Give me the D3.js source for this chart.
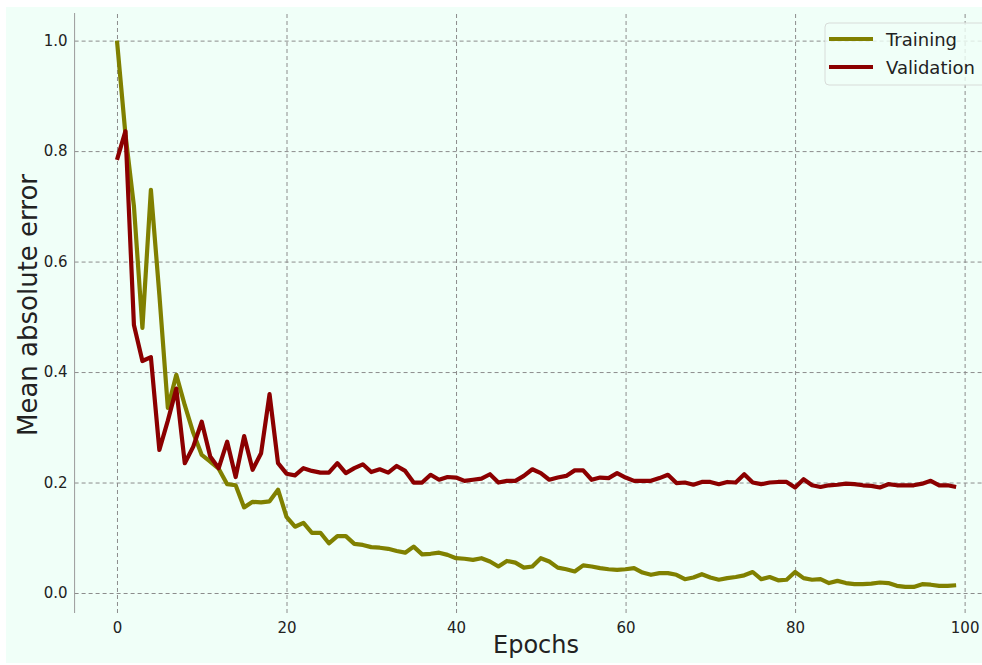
<!DOCTYPE html>
<html>
<head>
<meta charset="utf-8">
<script src="https://cdn.jsdelivr.net/npm/d3@7/dist/d3.min.js"></script>
<style>
  html, body { margin: 0; padding: 0; background: #ffffff; }
  svg { display: block; }
  text { font-family: "DejaVu Sans", sans-serif; fill: #222; }
</style>
</head>
<body>
<svg id="chart" width="982" height="665"></svg>
<script>
const epochs = d3.range(0, 100);
const training = [
  1.000, 0.830, 0.700, 0.480, 0.730, 0.540, 0.335, 0.395, 0.340, 0.290,
  0.250, 0.238, 0.225, 0.197, 0.195, 0.155, 0.165, 0.164, 0.166, 0.187,
  0.138, 0.120, 0.127, 0.109, 0.109, 0.090, 0.103, 0.103, 0.089, 0.087,
  0.083, 0.082, 0.080, 0.076, 0.073, 0.084, 0.070, 0.071, 0.073, 0.069,
  0.063, 0.062, 0.060, 0.063, 0.057, 0.048, 0.058, 0.055, 0.046, 0.048,
  0.063, 0.057, 0.046, 0.043, 0.039, 0.050, 0.048, 0.045, 0.043, 0.042,
  0.043, 0.045, 0.037, 0.033, 0.036, 0.036, 0.033, 0.025, 0.028, 0.034,
  0.028, 0.024, 0.027, 0.029, 0.032, 0.038, 0.025, 0.029, 0.023, 0.024,
  0.038, 0.027, 0.024, 0.025, 0.018, 0.022, 0.018, 0.016, 0.016, 0.017,
  0.019, 0.018, 0.013, 0.011, 0.011, 0.016, 0.015, 0.013, 0.013, 0.014
];
const validation = [
  0.784, 0.836, 0.485, 0.420, 0.427, 0.259, 0.312, 0.370, 0.235, 0.265,
  0.310, 0.247, 0.226, 0.274, 0.210, 0.284, 0.223, 0.253, 0.360, 0.235,
  0.216, 0.213, 0.226, 0.221, 0.218, 0.218, 0.235, 0.217, 0.226, 0.233,
  0.219, 0.224, 0.218, 0.230, 0.221, 0.200, 0.200, 0.214, 0.205, 0.210,
  0.209, 0.203, 0.205, 0.207, 0.215, 0.200, 0.203, 0.203, 0.212, 0.224,
  0.217, 0.205, 0.209, 0.212, 0.222, 0.222, 0.205, 0.209, 0.208, 0.217,
  0.209, 0.203, 0.203, 0.203, 0.208, 0.214, 0.199, 0.200, 0.196, 0.201,
  0.201, 0.197, 0.201, 0.200, 0.215, 0.200, 0.197, 0.200, 0.201, 0.201,
  0.191, 0.206, 0.195, 0.192, 0.195, 0.196, 0.198, 0.197, 0.195, 0.194,
  0.191, 0.197, 0.195, 0.195, 0.195, 0.198, 0.203, 0.195, 0.195, 0.192
];
const xTicks = [0, 20, 40, 60, 80, 100];
const yTicks = [0.0, 0.2, 0.4, 0.6, 0.8, 1.0];
const seriesNames = ["Training", "Validation"];
const seriesColors = ["#808000", "#8b0000"];

const svg = d3.select("#chart");
const W = 982, H = 665;

// figure background
svg.append("rect").attr("x", 6).attr("y", 7).attr("width", W - 6).attr("height", 656)
  .attr("fill", "#f0fff8");

const plot = { left: 74.6, right: 1007, top: 13, bottom: 613 };
const x = d3.scaleLinear().domain([-5, 105]).range([plot.left, plot.right]);
const y = d3.scaleLinear().domain([-0.0362, 1.05]).range([plot.bottom, plot.top]);

const gridColor = "#8c8c8c";
// horizontal grid
const yAxis = d3.axisLeft(y).tickValues(yTicks).tickFormat(d3.format(".1f"))
  .tickSize(-(plot.right - plot.left)).tickPadding(7);
const gy = svg.append("g").attr("transform", `translate(${plot.left},0)`).call(yAxis);
gy.select(".domain").remove();
gy.selectAll(".tick line").attr("stroke", gridColor).attr("stroke-dasharray", "4,3").attr("stroke-width", 1);
gy.selectAll(".tick text").attr("font-size", 15).attr("fill", "#1a1a1a")
  .style("font-family", '"DejaVu Sans", sans-serif');

// vertical grid
const xAxis = d3.axisBottom(x).tickValues(xTicks).tickFormat(d3.format("d"))
  .tickSize(-(plot.bottom - plot.top)).tickPadding(9);
const gx = svg.append("g").attr("transform", `translate(0,${plot.bottom})`).call(xAxis);
gx.select(".domain").remove();
gx.selectAll(".tick line").attr("stroke", gridColor).attr("stroke-dasharray", "4,3").attr("stroke-width", 1);
gx.selectAll(".tick text").attr("font-size", 15).attr("fill", "#1a1a1a")
  .style("font-family", '"DejaVu Sans", sans-serif');

// left spine
svg.append("line").attr("x1", plot.left).attr("x2", plot.left)
  .attr("y1", plot.top).attr("y2", plot.bottom)
  .attr("stroke", "#9a9a9a").attr("stroke-width", 1);

// lines
const line = d3.line().x((d, i) => x(epochs[i])).y(d => y(d));
[training, validation].forEach((s, k) => {
  svg.append("path").datum(s).attr("d", line)
    .attr("fill", "none").attr("stroke", seriesColors[k])
    .attr("stroke-width", 4.2).attr("stroke-linejoin", "round").attr("stroke-linecap", "butt");
});

// axis labels
svg.append("text").attr("x", 536).attr("y", 653).attr("text-anchor", "middle")
  .attr("font-size", 24).text("Epochs");
svg.append("text").attr("transform", "translate(37,305) rotate(-90)")
  .attr("text-anchor", "middle").attr("font-size", 26).text("Mean absolute error");

// legend
const lg = svg.append("g");
lg.append("rect").attr("x", 825).attr("y", 23).attr("width", 180).attr("height", 62)
  .attr("rx", 4).attr("fill", "#f0fff8").attr("fill-opacity", 0.8)
  .attr("stroke", "#d8dcd9").attr("stroke-width", 1);
seriesNames.forEach((n, k) => {
  const yy = 39 + k * 28;
  lg.append("line").attr("x1", 829).attr("x2", 873).attr("y1", yy).attr("y2", yy)
    .attr("stroke", seriesColors[k]).attr("stroke-width", 4);
  lg.append("text").attr("x", 886).attr("y", yy + 6.5).attr("font-size", 18).text(n);
});
</script>
</body>
</html>
